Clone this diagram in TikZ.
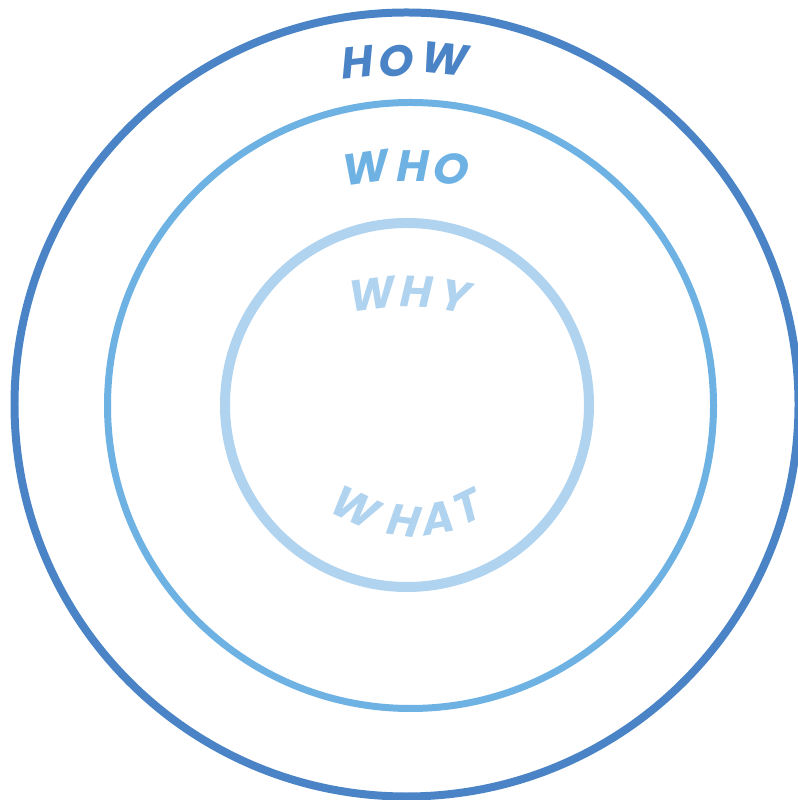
\documentclass[tikz,border=0pt]{standalone}
\usepackage{fontspec}
\newfontfamily\ringfont[FakeSlant=0.2]{Poppins}
\usetikzlibrary{calc}

\definecolor{howblue}{RGB}{74,132,198}
\definecolor{whoblue}{RGB}{110,178,228}
\definecolor{whyblue}{RGB}{176,211,240}

\begin{document}
\begin{tikzpicture}[
  x=0.02cm, y=0.02cm,
  ring/.style={line width=#1},
  word/.style={font=\ringfont\bfseries\fontsize{25}{25}\selectfont,
    inner sep=0pt}
]
  \useasboundingbox (0,0) rectangle (797,800);
  % rings
  \coordinate (outer) at (406.5,395.5);
  \coordinate (middle) at (410.5,394.5);
  \coordinate (inner) at (407,395);
  \draw[ring=4.55pt, howblue] (outer) circle[radius=392];
  \draw[ring=3.98pt, whoblue] (middle) circle[radius=303];
  \draw[ring=5.69pt, whyblue] (inner) circle[radius=182];
  % curved labels, letter by letter
  \foreach \ch/\x/\y/\a in {H/355/737.5/6, O/394/739/0, W/442/741/-6}
    \node[word, howblue, rotate=\a] (how\ch) at (\x,\y) {\ch};
  \foreach \ch/\x/\y/\a in {W/363/632/8, H/411/633.5/0, O/449/631.5/-8}
    \node[word, whoblue, rotate=\a] (who\ch) at (\x,\y) {\ch};
  \foreach \ch/\x/\y/\a in {W/370/506/7, H/414/508.5/-2, Y/453/504/-10}
    \node[word, whyblue, rotate=\a] (why\ch) at (\x,\y) {\ch};
  \foreach \ch/\x/\y/\a in {W/353/294/-25, H/402/280/-8, A/436/281/10,
    T/465/292/26}
    \node[word, whyblue, rotate=\a] (what\ch) at (\x,\y) {\ch};
\end{tikzpicture}
\end{document}
